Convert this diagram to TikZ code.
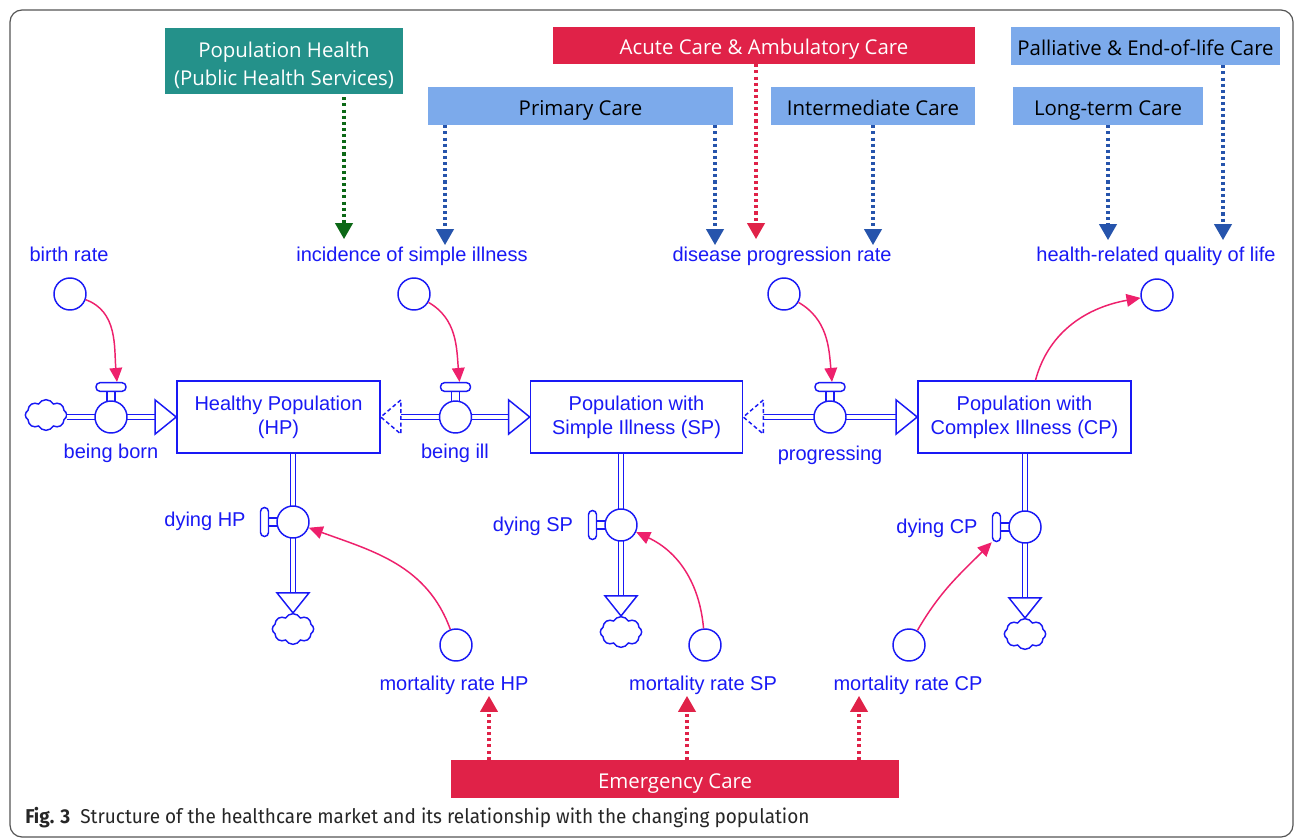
\documentclass[tikz,border=0pt]{standalone}
\usepackage{fontspec}
\setmainfont{Liberation Sans}
\newfontfamily\boxfont{Open Sans}
\newfontfamily\capfont{Fira Sans}
\usetikzlibrary{arrows.meta,shapes.symbols,calc}
\definecolor{flowblue}{RGB}{25,25,245}
\definecolor{dotblue}{RGB}{38,84,172}
\definecolor{dotgreen}{RGB}{12,104,22}
\definecolor{carered}{RGB}{224,34,72}
\definecolor{linkpink}{RGB}{238,32,108}
\definecolor{tealbox}{RGB}{36,145,138}
\definecolor{lightbluebox}{RGB}{124,170,235}
\definecolor{framegray}{RGB}{85,85,85}
\newcommand{\hvalve}[3]{%
  \draw[stemstyle] (#2-4,#3+14) rectangle (#2+4,#3+26);
  \node[valvestyle] (#1) at (#2,#3) {};
  \node[hhandle] (#1h) at (#2,#3+30) {};
}
\newcommand{\vvalve}[3]{%
  \draw[stemstyle] (#2-26,#3-4) rectangle (#2-14,#3+4);
  \node[valvestyle] (#1) at (#2,#3) {};
  \node[vhandle] (#1h) at (#2-28.5,#3) {};
}
\begin{document}
\begin{tikzpicture}[x=0.75pt,y=0.75pt,
  every node/.style={inner sep=0pt},
  cbox/.style={font=\boxfont\fontsize{15.3}{21}\selectfont, minimum height=28.5pt, text height=16.5pt, text depth=3pt},
  boxtext/.style={font=\boxfont\fontsize{15.3}{21}\selectfont, align=center},
  stock/.style={draw=flowblue, line width=1.2pt, fill=white, minimum height=54pt, align=center,
    text=flowblue, font=\fontsize{15}{18}\selectfont},
  lbl/.style={text=flowblue, font=\fontsize{15}{18}\selectfont, text height=11pt, text depth=3pt, inner sep=1pt},
  varc/.style={circle, draw=flowblue, line width=1.1pt, fill=white, minimum size=24pt},
  valvestyle/.style={circle, draw=flowblue, line width=1.1pt, fill=white, minimum size=24pt},
  stemstyle/.style={draw=flowblue, line width=1.1pt, fill=white},
  hhandle/.style={draw=flowblue, line width=1.1pt, fill=white, rounded corners=3pt, minimum width=22.5pt, minimum height=6.5pt},
  vhandle/.style={draw=flowblue, line width=1.1pt, fill=white, rounded corners=3pt, minimum width=6pt, minimum height=21.75pt},
  cloudstyle/.style={cloud, cloud puffs=8, cloud puff arc=120, aspect=1.35, draw=flowblue, line width=1.1pt, fill=white, minimum width=31pt, minimum height=23pt},
  pipe/.style={draw=flowblue, line width=1.1pt, double=white, double distance=3pt},
  htip/.style={draw=flowblue, fill=white, line width=1.1pt, line join=miter},
  dtip/.style={draw=flowblue, fill=white, line width=1.1pt, dash pattern=on 3pt off 2pt},
  dotarrow/.style={line width=2.3pt, dash pattern=on 2.3pt off 2.3pt, -{Triangle[width=13pt,length=12pt]}},
  link/.style={draw=linkpink, line width=1.1pt, -{Triangle[width=9.5pt,length=10.5pt]}}
]
\useasboundingbox (0,0) rectangle (1295,-839);
\fill[white] (0,0) rectangle (1295,-839);
\draw[framegray, line width=0.9pt, rounded corners=9pt] (10,-10) rectangle (1293,-837);

% ---- top boxes ----
\node[fill=tealbox, minimum width=178.5pt, minimum height=49.5pt] (PH) at (284,-61) {};
\node[boxtext, text=white] (PHt) at ($(PH.center)+(0,-4)$) {Population Health\\(Public Health Services)};
\node[cbox, fill=carered, text=white, minimum width=316.5pt, minimum height=27.75pt] (ACA) at (764,-45.5) {Acute Care \& Ambulatory Care};
\node[cbox, fill=lightbluebox, text=black, minimum width=201.75pt] (PEC) at (1145.5,-46) {Palliative \& End-of-life Care};
\node[cbox, fill=lightbluebox, text=black, minimum width=228.75pt] (PC) at (580.5,-106) {Primary Care};
\node[cbox, fill=lightbluebox, text=black, minimum width=153pt] (IC) at (873,-106) {Intermediate Care};
\node[cbox, fill=lightbluebox, text=black, minimum width=142.5pt] (LTC) at (1108,-106) {Long-term Care};
\node[cbox, fill=carered, text=white, minimum width=336pt] (EC) at (675,-779) {Emergency Care};

% ---- variable labels and circles ----
\node[lbl] (brL) at (69,-256) {birth rate};
\node[lbl] (incL) at (412,-256) {incidence of simple illness};
\node[lbl] (dprL) at (782,-256) {disease progression rate};
\node[lbl] (hqlL) at (1156,-256) {health-related quality of life};
\node[varc] (brC) at (70,-294) {};
\node[varc] (incC) at (414,-294) {};
\node[varc] (dprC) at (784,-294) {};
\node[varc] (hqlC) at (1157,-295) {};
\node[varc] (mHPC) at (456,-645) {};
\node[varc] (mSPC) at (705,-645) {};
\node[varc] (mCPC) at (909,-645) {};
\node[lbl] (mHPL) at (454,-685) {mortality rate HP};
\node[lbl] (mSPL) at (703,-685) {mortality rate SP};
\node[lbl] (mCPL) at (908,-685) {mortality rate CP};

% ---- stocks ----
\node[stock, minimum width=152.25pt] (HP) at (278.5,-417) {Healthy Population\\(HP)};
\node[stock, minimum width=159pt] (SP) at (636.5,-417) {Population with\\Simple Illness (SP)};
\node[stock, minimum width=159.75pt] (CP) at (1024.5,-417) {Population with\\Complex Illness (CP)};

% ---- clouds ----
\node[cloudstyle] (c0) at (46,-415) {};
\node[cloudstyle] (c1) at (293,-629) {};
\node[cloudstyle] (c2) at (621,-632) {};
\node[cloudstyle] (c3) at (1025,-634) {};

% ---- pipes (drawn before valves) ----
\coordinate (v1pos) at (293,-522);
\coordinate (v2pos) at (621,-525);
\coordinate (v3pos) at (1025,-527);

\draw[pipe] (c0.east |- HP.west) -- ($(HP.west)+(-21,0)$);
\draw[htip] (HP.west) -- ++(-21,17) -- ++(0,-34) -- cycle;

\draw[pipe] ($(HP.east)+(20,0)$) -- ($(SP.west)+(-21,0)$);
\draw[htip] (SP.west) -- ++(-21,17) -- ++(0,-34) -- cycle;
\draw[dtip] ($(HP.east)+(20,17)$) -- (HP.east) -- ($(HP.east)+(20,-17)$) -- cycle;

\draw[pipe] ($(SP.east)+(20,0)$) -- ($(CP.west)+(-21,0)$);
\draw[htip] (CP.west) -- ++(-21,17) -- ++(0,-34) -- cycle;
\draw[dtip] ($(SP.east)+(20,17)$) -- (SP.east) -- ($(SP.east)+(20,-17)$) -- cycle;

\draw[pipe] (v1pos |- HP.south) -- ($(c1.north)+(0,20)$);
\draw[htip] (c1.north) -- ++(-16,20) -- ++(32,0) -- cycle;
\draw[pipe] (v2pos |- SP.south) -- ($(c2.north)+(0,20)$);
\draw[htip] (c2.north) -- ++(-16,20) -- ++(32,0) -- cycle;
\draw[pipe] (v3pos |- CP.south) -- ($(c3.north)+(0,20)$);
\draw[htip] (c3.north) -- ++(-16,20) -- ++(32,0) -- cycle;

% ---- valves ----
\hvalve{vb}{111}{-417}
\hvalve{vi}{455.5}{-417}
\hvalve{vp}{830}{-417}
\vvalve{vd1}{293}{-522}
\vvalve{vd2}{621}{-525}
\vvalve{vd3}{1025}{-527}

% ---- flow labels ----
\node[lbl] (vbL) at (111,-453) {being born};
\node[lbl] (viL) at (455,-453) {being ill};
\node[lbl] (vpL) at (830,-455) {progressing};
\node[lbl] (vd1L) at (205,-521) {dying HP};
\node[lbl] (vd2L) at (533,-526) {dying SP};
\node[lbl] (vd3L) at (937,-528) {dying CP};

% ---- causal links ----
\draw[link] (brC) to[out=-20,in=95] ($(vbh.north)+(6,0)$);
\draw[link] (incC) to[out=-30,in=95] ($(vih.north)+(4,0)$);
\draw[link] (dprC) to[out=-30,in=95] ($(vph.north)+(2,0)$);
\draw[link] ($(CP.north)+(11,0)$) to[out=75,in=190] (hqlC);
\draw[link] (mHPC) to[out=110,in=-20] (vd1);
\draw[link] (mSPC) to[out=95,in=-25] (vd2);
\draw[link] (mCPC) to[out=60,in=225] (vd3h.south west);

% ---- dotted influence arrows ----
\coordinate (xa) at (344,0);
\coordinate (xb) at (445,0);
\coordinate (xc) at (715,0);
\coordinate (xd) at (756,0);
\coordinate (xe) at (873,0);
\coordinate (xf) at (1108,0);
\coordinate (xg) at (1223,0);
\coordinate (xh) at (489,0);
\coordinate (xi) at (687,0);
\coordinate (xj) at (859,0);
\draw[dotarrow, dotgreen] ($(xa |- PH.south)+(0,-3)$) -- ($(xa |- incL.north)+(0,6)$);
\draw[dotarrow, dotblue] (xb |- PC.south) -- (xb |- incL.north);
\draw[dotarrow, dotblue] (xc |- PC.south) -- (xc |- dprL.north);
\draw[dotarrow, carered] (xd |- ACA.south) -- ($(xd |- dprL.north)+(0,6)$);
\draw[dotarrow, dotblue] (xe |- IC.south) -- (xe |- dprL.north);
\draw[dotarrow, dotblue] (xf |- LTC.south) -- ($(xf |- hqlL.north)+(0,5)$);
\draw[dotarrow, dotblue] (xg |- PEC.south) -- ($(xg |- hqlL.north)+(0,5)$);
\draw[dotarrow, carered] (xh |- EC.north) -- (xh |- mHPL.south);
\draw[dotarrow, carered] (xi |- EC.north) -- (xi |- mSPL.south);
\draw[dotarrow, carered] (xj |- EC.north) -- (xj |- mCPL.south);

% ---- caption ----
\node[anchor=west, font=\capfont\fontsize{15}{17}\selectfont, text=black!85] (cap) at (25,-818) {\scalebox{0.95}[1]{\textbf{Fig. 3}\hspace{8pt}Structure of the healthcare market and its relationship with the changing population}};
\end{tikzpicture}
\end{document}
